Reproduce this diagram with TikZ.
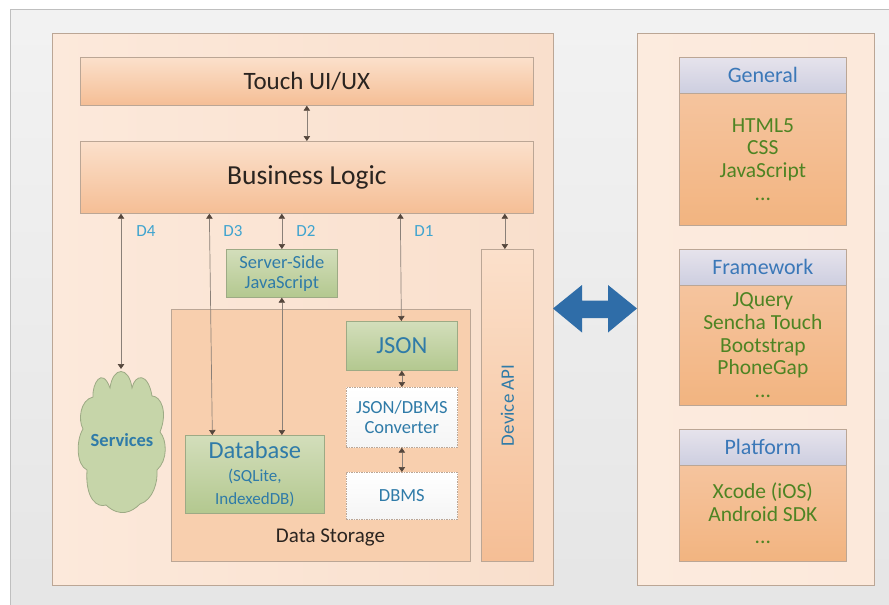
\documentclass[tikz,border=0pt]{standalone}
\usepackage{fontspec}
\setmainfont{Carlito}
\usetikzlibrary{arrows.meta}
\definecolor{panelA}{HTML}{FCE9DB}
\definecolor{panelB}{HTML}{F9DFCC}
\definecolor{boxT}{HTML}{FBE0CB}
\definecolor{boxB}{HTML}{F5BE95}
\definecolor{store}{HTML}{F8CFAE}
\definecolor{edge}{HTML}{BBA695}
\definecolor{greenT}{HTML}{D3DEBB}
\definecolor{greenB}{HTML}{B3C88F}
\definecolor{greenE}{HTML}{9DAA85}
\definecolor{txtblue}{HTML}{2F7BA8}
\definecolor{headblue}{HTML}{3B78B8}
\definecolor{lblue}{HTML}{3FA4CF}
\definecolor{txtgreen}{HTML}{4E8423}
\definecolor{arrowc}{HTML}{54463C}
\definecolor{linkc}{HTML}{8A8078}
\definecolor{bigblue}{HTML}{2F6DA8}
\definecolor{headT}{HTML}{E6E3EC}
\definecolor{headB}{HTML}{CDCEE0}
\definecolor{bodyT}{HTML}{F5C49E}
\definecolor{bodyB}{HTML}{F2B480}
\definecolor{txtdark}{HTML}{2A2420}
\tikzset{
 x=1pt,y=-1pt,
 box/.style={draw=edge,line width=.7pt,inner sep=0pt,align=center},
 panel/.style={box,left color=panelA,right color=panelB},
 peach/.style={box,top color=boxT,bottom color=boxB,text=txtdark},
 greenbox/.style={box,draw=greenE,top color=greenT,bottom color=greenB,text=txtblue},
 whitebox/.style={box,draw=edge,dash pattern=on 1.5pt off 1pt,top color=white,bottom color=white!92!gray,text=txtblue},
 head/.style={box,top color=headT,bottom color=headB,text=headblue,font=\fontsize{22}{26}\selectfont},
 body/.style={box,top color=bodyT,bottom color=bodyB,text=txtgreen,font=\fontsize{21.5}{22.7}\selectfont},
 link/.style={draw=linkc,line width=.7pt,{Triangle[length=5pt,width=6.5pt,color=arrowc]}-{Triangle[length=5pt,width=6.5pt,color=arrowc]}},
 dlabel/.style={text=lblue,font=\fontsize{17}{20}\selectfont,inner sep=0pt},
 small/.style={font=\fontsize{18.5}{20}\selectfont},
}
\newcommand{\rect}[7]{\node[#1,minimum width=#5pt-#3pt,minimum height=#6pt-#4pt,anchor=north west] (#2) at (#3,#4) {#7};}
\begin{document}
\begin{tikzpicture}
\useasboundingbox (0,0) rectangle (889,605);
\fill[white] (0,0) rectangle (889,605);
\draw[top color=gray!10,bottom color=gray!20,draw=gray!50,line width=.7pt] (10,9.5) -- (889,9.5) -- (889,605) -- (10,605) -- cycle;
\rect{panel}{left}{52}{33}{553}{585}{}
\rect{panel,left color=panelA!92!white,right color=panelA}{right}{637}{33}{874}{585}{}
\rect{peach,font=\fontsize{25}{29}\selectfont}{ui}{80}{57}{533}{105}{Touch UI/UX}
\rect{peach,font=\fontsize{27.5}{32}\selectfont}{biz}{80}{141}{533}{213}{Business Logic}
\rect{box,fill=store}{ds}{171}{309}{470}{561}{}
\node[inner sep=0pt,text=txtdark,font=\fontsize{21}{25}\selectfont] (dslabel) at (330.5,537) {Data Storage};
\rect{greenbox,small}{ssj}{226}{249}{337}{297}{Server-Side\\JavaScript}
\rect{greenbox,font=\fontsize{24.5}{29}\selectfont}{json}{346}{321}{457}{370}{JSON}
\rect{whitebox,small}{conv}{346}{387}{457}{447}{JSON/DBMS\\Converter}
\rect{whitebox,small}{dbms}{346}{472}{457}{519}{DBMS}
\rect{greenbox,font=\fontsize{17}{23}\selectfont}{db}{185}{435}{324}{513}{{\fontsize{24.5}{23}\selectfont Database}\\(SQLite,\\IndexedDB)}
\rect{peach}{dev}{481}{249}{533}{561}{\rotatebox{90}{\color{txtblue}\fontsize{19}{22}\selectfont Device API}}
% cloud outline
\draw[draw=greenE,line width=.8pt,fill=greenT!60!greenB]
 (110,388) .. controls (113,366) and (129,366) .. (132,388)
 .. controls (135,374) and (148,372) .. (152,396)
 .. controls (161,396) and (168,412) .. (160,432)
 .. controls (167,440) and (168,460) .. (157,470)
 .. controls (158,482) and (153,500) .. (140,504)
 .. controls (132,512) and (120,518) .. (106,505)
 .. controls (98,508) and (85,500) .. (87,470)
 .. controls (76,465) and (76,440) .. (83,429)
 .. controls (78,420) and (80,400) .. (93,397)
 .. controls (92,384) and (102,366) .. (110,388) -- cycle;
\coordinate (svctop) at (121,369);
\node[inner sep=0pt,text=txtblue,font=\bfseries\fontsize{18.5}{21}\selectfont] (svc) at (122,440) {Services};
\rect{head}{h1}{679}{57}{846}{93}{General}
\rect{body}{b1}{679}{93}{846}{225}{HTML5\\CSS\\JavaScript\\...}
\rect{head}{h2}{679}{249}{846}{285}{Framework}
\rect{body}{b2}{679}{285}{846}{405}{JQuery\\Sencha Touch\\Bootstrap\\PhoneGap\\...}
\rect{head}{h3}{679}{429}{846}{465}{Platform}
\rect{body}{b3}{679}{465}{846}{561}{Xcode (iOS)\\Android SDK\\...}
\draw[link] (ui.south) -- (biz.north);
\draw[link] (biz.south -| svctop) -- (svctop);
\draw[link] ([xshift=-97.5pt]biz.south) -- ([xshift=-42.5pt]db.north);
\draw[link] (biz.south -| ssj.north) -- (ssj.north);
\draw[link] (ssj.south) -- (db.north -| ssj.south);
\draw[link] ([xshift=93.5pt]biz.south) -- ([xshift=-0.5pt]json.north);
\draw[link] ([xshift=198pt]biz.south) -- ([xshift=-2.5pt]dev.north);
\draw[link] (json.south) -- (conv.north);
\draw[link] (conv.south) -- (dbms.north);
\node[dlabel] (d4) at (146,231) {D4};
\node[dlabel] (d3) at (233,231) {D3};
\node[dlabel] (d2) at (306,231) {D2};
\node[dlabel] (d1) at (424,231) {D1};
\fill[bigblue] (553,308.5) -- (582,285) -- (582,300.5) -- (608,300.5) -- (608,285) -- (637,308.5) -- (608,332.5) -- (608,318) -- (582,318) -- (582,332.5) -- cycle;
\end{tikzpicture}
\end{document}
